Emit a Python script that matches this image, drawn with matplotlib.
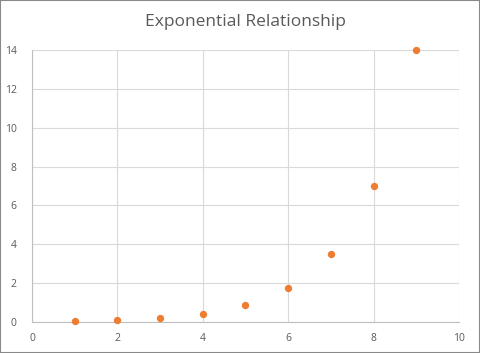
import matplotlib
matplotlib.use("Agg")
import matplotlib.pyplot as plt
from matplotlib.patches import Rectangle

x_vals = [1, 2, 3, 4, 5, 6, 7, 8, 9]
y_vals = [0.0547, 0.109, 0.219, 0.4375, 0.875, 1.75, 3.5, 7, 14]
x_ticks = [0, 2, 4, 6, 8, 10]
y_ticks = [0, 2, 4, 6, 8, 10, 12, 14]
title = "Exponential Relationship"

plt.rcParams['font.family'] = ['Open Sans', 'DejaVu Sans']

fig = plt.figure(figsize=(4.8, 3.53), dpi=100)
ax = fig.add_axes([32/480, 1-322/353, (459-32)/480, (322-50)/353])

ax.scatter(x_vals, y_vals, s=28, color='#ed7d31', zorder=3, linewidths=0, clip_on=False)
ax.set_xlim(0, 10)
ax.set_ylim(0, 14)
ax.set_xticks(x_ticks)
ax.set_yticks(y_ticks)
ax.grid(True, color='#d9d9d9', linewidth=0.8)
ax.set_axisbelow(True)
for s in ['top', 'right']:
    ax.spines[s].set_visible(False)
for s in ['left', 'bottom']:
    ax.spines[s].set_color('#bfbfbf')
    ax.spines[s].set_linewidth(0.8)
ax.tick_params(length=0, labelsize=7.5, labelcolor='#595959')
ax.tick_params(axis='y', pad=11)
ax.tick_params(axis='x', pad=8)
ax.set_title(title, fontsize=12.5, color='#595959', pad=17)

fig.patches.append(Rectangle((0, 0), 1, 1, transform=fig.transFigure,
                             fill=False, edgecolor='#898989', linewidth=1.5))
fig.savefig("out.png", dpi=100)
